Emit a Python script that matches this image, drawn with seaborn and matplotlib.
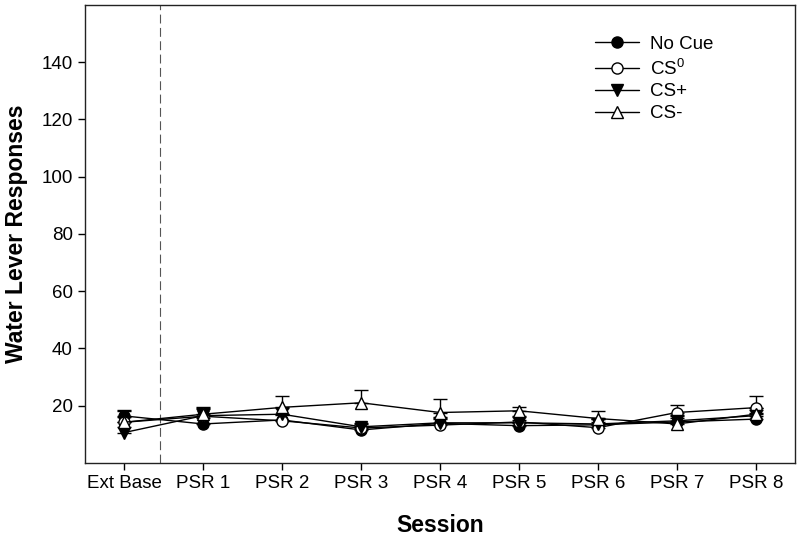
"""Water lever responses by session (Ext Base, PSR 1-8) for four cue conditions."""

import matplotlib
matplotlib.use("Agg")
import matplotlib.pyplot as plt
import numpy as np
import pandas as pd
import seaborn as sns

sessions = ["Ext Base", "PSR 1", "PSR 2", "PSR 3", "PSR 4", "PSR 5", "PSR 6", "PSR 7", "PSR 8"]

no_cue = [16.4, 13.6, 15.0, 11.5, 13.8, 13.0, 13.3, 14.3, 15.3]
cs_zero = [14.2, 16.3, 14.7, 12.2, 13.2, 14.3, 12.3, 17.6, 19.3]
cs_plus = [10.6, 16.5, 17.0, 12.6, 14.0, 14.0, 13.6, 14.7, 16.5]
cs_minus = [14.2, 17.0, 19.4, 21.0, 17.6, 18.2, 15.5, 13.6, 17.0]

no_cue_sem = [2.0, 2.0, 2.0, 1.5, 2.0, 2.0, 2.0, 2.0, 2.0]
cs_zero_sem = [2.0, 2.5, 2.0, 1.5, 2.0, 2.0, 2.0, 2.7, 3.9]
cs_plus_sem = [2.0, 2.5, 2.0, 1.5, 2.0, 2.0, 2.0, 2.0, 2.0]
cs_minus_sem = [4.0, 2.6, 3.8, 4.5, 4.8, 1.4, 2.8, 2.0, 2.0]

# (nom, moyennes, sem, marqueur, remplissage)
series = [
    ("No Cue", no_cue, no_cue_sem, "o", "black"),
    ("CS$^{\\mathregular{0}}$", cs_zero, cs_zero_sem, "o", "white"),
    ("CS+", cs_plus, cs_plus_sem, "v", "black"),
    ("CS-", cs_minus, cs_minus_sem, "^", "white"),
]

sns.set_style("ticks")
plt.rcParams["font.family"] = ["Liberation Sans", "DejaVu Sans"]
plt.rcParams["mathtext.fontset"] = "custom"
plt.rcParams["mathtext.rm"] = "Liberation Sans"
plt.rcParams["text.color"] = "black"
plt.rcParams["axes.labelcolor"] = "black"

fig = plt.figure(figsize=(8, 5.37), dpi=100)
ax = fig.add_axes([0.106, 0.138, 0.888, 0.853])

x = np.arange(len(sessions))
for name, means, sem, marker, face in series:
    df = pd.DataFrame({"pos": x, "value": means})
    # barres d'erreur vers le haut uniquement (style SigmaPlot)
    ax.errorbar(x, means, yerr=[np.zeros(len(sem)), sem], fmt="none",
                ecolor="black", elinewidth=1, capsize=4.7, capthick=1, zorder=2)
    sns.lineplot(data=df, x="pos", y="value", ax=ax, color="black", linewidth=1,
                 marker=marker, markersize=8, markerfacecolor=face,
                 markeredgecolor="black", markeredgewidth=1, label=name, zorder=3)

ax.axvline(0.45, color="#555555", linestyle=(0, (8, 4)), linewidth=0.8)

ax.set_xlim(-0.5, 8.5)
ax.set_ylim(0, 160)
ax.set_xticks(x)
ax.set_xticklabels(sessions)
ax.set_yticks(np.arange(20, 141, 20))
ax.tick_params(axis="both", labelsize=13.5, direction="out", length=5, width=1,
               colors="black", labelcolor="black")
for side in ["top", "right", "left", "bottom"]:
    ax.spines[side].set_visible(True)
    ax.spines[side].set_linewidth(1)
    ax.spines[side].set_color("#222222")

ax.set_xlabel("Session", fontsize=16.5, fontweight="bold", labelpad=16)
ax.set_ylabel("Water Lever Responses", fontsize=16.5, fontweight="bold", labelpad=10)

ax.legend(loc="upper left", bbox_to_anchor=(0.694, 0.969), frameon=False, fontsize=13.5,
          handlelength=2.35, labelspacing=0.25, handletextpad=0.6)

fig.savefig("out.png", dpi=100)
plt.close(fig)
